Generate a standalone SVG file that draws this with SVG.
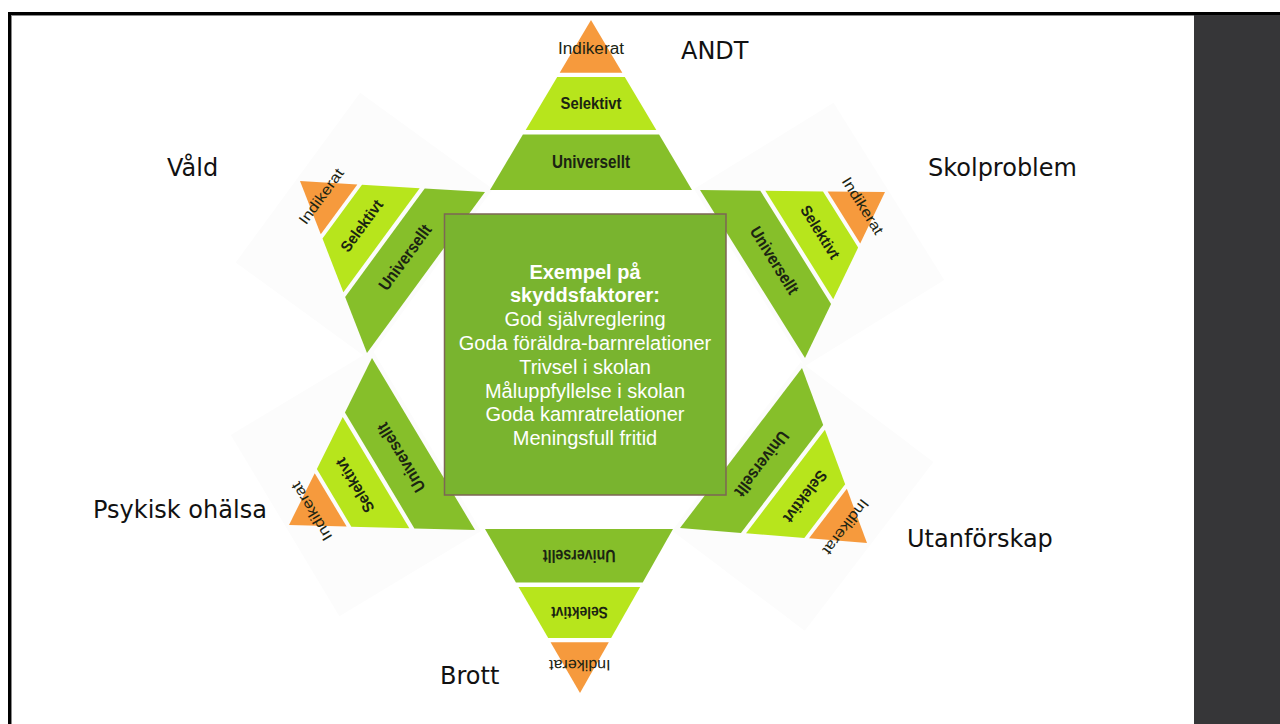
<svg xmlns="http://www.w3.org/2000/svg" width="1280" height="724" viewBox="0 0 1280 724">
<style>
.bg{fill:#fcfcfc}
.ind{fill:#f69a3d}
.sel{fill:#b7e51c}
.uni{fill:#86bf2a}
.pt{font-family:"Liberation Sans",Arial,sans-serif;fill:#1b2412;text-anchor:middle}
.pi{font-size:16px}
.ps{font-size:17px;font-weight:bold}
.pu{font-size:18.5px;font-weight:bold}
.lbl{font-family:"DejaVu Sans",Verdana,sans-serif;font-size:24px;fill:#111}
.bt{font-family:"Liberation Sans",Arial,sans-serif;font-size:20px;fill:#fff;text-anchor:middle}
</style>
<rect x="0" y="0" width="1280" height="724" fill="#ffffff"/>
<rect x="1194" y="15" width="86" height="709" fill="#363638"/>
<rect x="8" y="12" width="1272" height="3" fill="#000"/>
<rect x="8" y="12" width="3" height="712" fill="#000"/>
<rect x="11" y="15" width="1183" height="1" fill="#8a8a8a"/>
<rect x="11" y="15" width="1" height="709" fill="#8a8a8a"/>

<g id="backgrounds">
<rect class="bg" x="-105" y="-174" width="213" height="179" transform="matrix(0.5842,-0.7970,0.7412,0.5382,426,272.5)"/>
<rect class="bg" x="-105" y="-174" width="213" height="179" transform="matrix(0.5198,0.8317,-0.7794,0.4824,752.5,274)"/>
<rect class="bg" x="-105" y="-174" width="213" height="179" transform="matrix(-0.6040,0.7921,-0.7412,-0.5588,741,448)"/>
<rect class="bg" x="-105" y="-174" width="213" height="179" transform="matrix(-0.5099,-0.8515,0.7912,-0.4765,423.5,444)"/>
</g>

<g id="connectors"></g>

<g id="pyramid-andt" transform="translate(591,190)">
<polygon class="ind" points="0,-170 -31.3,-117.3 31.3,-117.3"/>
<polygon class="sel" points="-33.8,-113 33.8,-113 65.3,-60 -65.3,-60"/>
<polygon class="uni" points="-68.1,-55.4 68.1,-55.4 101,0 -101,0"/>
<text class="pt pi" x="0" y="-136" textLength="66" lengthAdjust="spacingAndGlyphs">Indikerat</text>
<text class="pt ps" x="0" y="-81" textLength="61" lengthAdjust="spacingAndGlyphs">Selektivt</text>
<text class="pt pu" x="0" y="-22" textLength="78" lengthAdjust="spacingAndGlyphs">Universellt</text>
</g>

<g id="pyramid-vald" transform="matrix(0.5842,-0.7970,0.7412,0.5382,426,272.5)">
<polygon class="ind" points="0,-170 -31.3,-117.3 31.3,-117.3"/>
<polygon class="sel" points="-33.8,-113 33.8,-113 65.3,-60 -65.3,-60"/>
<polygon class="uni" points="-68.1,-55.4 68.1,-55.4 101,0 -101,0"/>
<text class="pt pi" x="0" y="-136" textLength="66" lengthAdjust="spacingAndGlyphs">Indikerat</text>
<text class="pt ps" x="0" y="-81" textLength="61" lengthAdjust="spacingAndGlyphs">Selektivt</text>
<text class="pt pu" x="0" y="-22" textLength="78" lengthAdjust="spacingAndGlyphs">Universellt</text>
</g>

<g id="pyramid-skolproblem" transform="matrix(0.5198,0.8317,-0.7794,0.4824,752.5,274)">
<polygon class="ind" points="0,-170 -31.3,-117.3 31.3,-117.3"/>
<polygon class="sel" points="-33.8,-113 33.8,-113 65.3,-60 -65.3,-60"/>
<polygon class="uni" points="-68.1,-55.4 68.1,-55.4 101,0 -101,0"/>
<text class="pt pi" x="0" y="-136" textLength="66" lengthAdjust="spacingAndGlyphs">Indikerat</text>
<text class="pt ps" x="0" y="-81" textLength="61" lengthAdjust="spacingAndGlyphs">Selektivt</text>
<text class="pt pu" x="0" y="-22" textLength="78" lengthAdjust="spacingAndGlyphs">Universellt</text>
</g>

<g id="pyramid-utanforskap" transform="matrix(-0.6040,0.7921,-0.7412,-0.5588,741,448)">
<polygon class="ind" points="0,-170 -31.3,-117.3 31.3,-117.3"/>
<polygon class="sel" points="-33.8,-113 33.8,-113 65.3,-60 -65.3,-60"/>
<polygon class="uni" points="-68.1,-55.4 68.1,-55.4 101,0 -101,0"/>
<text class="pt pi" x="0" y="-136" textLength="66" lengthAdjust="spacingAndGlyphs">Indikerat</text>
<text class="pt ps" x="0" y="-81" textLength="61" lengthAdjust="spacingAndGlyphs">Selektivt</text>
<text class="pt pu" x="0" y="-22" textLength="78" lengthAdjust="spacingAndGlyphs">Universellt</text>
</g>

<g id="pyramid-brott" transform="matrix(-0.9307,0,-0.0059,-0.9647,579,529)">
<polygon class="ind" points="0,-170 -31.3,-117.3 31.3,-117.3"/>
<polygon class="sel" points="-33.8,-113 33.8,-113 65.3,-60 -65.3,-60"/>
<polygon class="uni" points="-68.1,-55.4 68.1,-55.4 101,0 -101,0"/>
<text class="pt pi" x="0" y="-136" textLength="66" lengthAdjust="spacingAndGlyphs">Indikerat</text>
<text class="pt ps" x="0" y="-81" textLength="61" lengthAdjust="spacingAndGlyphs">Selektivt</text>
<text class="pt pu" x="0" y="-22" textLength="78" lengthAdjust="spacingAndGlyphs">Universellt</text>
</g>

<g id="pyramid-psykisk-ohalsa" transform="matrix(-0.5099,-0.8515,0.7912,-0.4765,423.5,444)">
<polygon class="ind" points="0,-170 -31.3,-117.3 31.3,-117.3"/>
<polygon class="sel" points="-33.8,-113 33.8,-113 65.3,-60 -65.3,-60"/>
<polygon class="uni" points="-68.1,-55.4 68.1,-55.4 101,0 -101,0"/>
<text class="pt pi" x="0" y="-136" textLength="66" lengthAdjust="spacingAndGlyphs">Indikerat</text>
<text class="pt ps" x="0" y="-81" textLength="61" lengthAdjust="spacingAndGlyphs">Selektivt</text>
<text class="pt pu" x="0" y="-22" textLength="78" lengthAdjust="spacingAndGlyphs">Universellt</text>
</g>

<g id="center-box">
<rect x="444.5" y="214" width="281.5" height="281" fill="#79b42f" stroke="#7d6655" stroke-width="1.5"/>
<text class="bt" x="585" y="278.5" font-weight="bold">Exempel på</text>
<text class="bt" x="585" y="302.3" font-weight="bold">skyddsfaktorer:</text>
<text class="bt" x="585" y="326.1">God självreglering</text>
<text class="bt" x="585" y="349.9">Goda föräldra-barnrelationer</text>
<text class="bt" x="585" y="373.7">Trivsel i skolan</text>
<text class="bt" x="585" y="397.5">Måluppfyllelse i skolan</text>
<text class="bt" x="585" y="421.3">Goda kamratrelationer</text>
<text class="bt" x="585" y="445.1">Meningsfull fritid</text>
</g>

<g id="labels">
<text class="lbl" x="681" y="59">ANDT</text>
<text class="lbl" x="167" y="176">Våld</text>
<text class="lbl" x="928" y="176">Skolproblem</text>
<text class="lbl" x="93" y="518">Psykisk ohälsa</text>
<text class="lbl" x="907" y="547">Utanförskap</text>
<text class="lbl" x="440" y="684">Brott</text>
</g>
</svg>
